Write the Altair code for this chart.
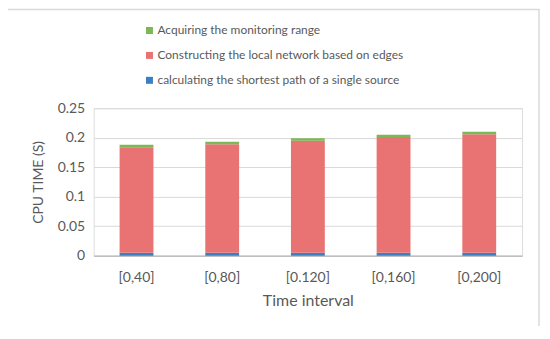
import altair as alt
import pandas as pd

intervals = ["[0,40]", "[0,80]", "[0.120]", "[0,160]", "[0,200]"]
series = [
    "Acquiring the monitoring range",
    "Constructing the local network based on edges",
    "calculating the shortest path of a single source",
]
shortest_path = [0.005, 0.005, 0.005, 0.005, 0.005]
local_network = [0.179, 0.184, 0.190, 0.196, 0.201]
monitoring = [0.004, 0.004, 0.004, 0.004, 0.004]
colors = ["#7CB955", "#E97373", "#3A7FC1"]

rows = []
for i, iv in enumerate(intervals):
    rows.append({"interval": iv, "series": series[2], "value": shortest_path[i], "ord": 0})
    rows.append({"interval": iv, "series": series[1], "value": local_network[i], "ord": 1})
    rows.append({"interval": iv, "series": series[0], "value": monitoring[i], "ord": 2})
df = pd.DataFrame(rows)

FONT = "Lato"
TXT = "#595959"

bars = alt.Chart(df).mark_bar().encode(
    x=alt.X("interval:N", sort=intervals,
            scale=alt.Scale(paddingInner=0.605, paddingOuter=0.3025),
            axis=alt.Axis(title="Time interval", labelAngle=0, ticks=False,
                          domainColor="#BFBFBF", domainWidth=1.5,
                          labelPadding=15, titlePadding=8,
                          labelFontSize=14, titleFontSize=16,
                          labelColor=TXT, titleColor=TXT,
                          labelFont=FONT, titleFont=FONT, titleFontWeight="normal")),
    y=alt.Y("value:Q", stack="zero",
            scale=alt.Scale(domain=[0, 0.25]),
            axis=alt.Axis(title="CPU TIME (S)", values=[0, 0.05, 0.1, 0.15, 0.2, 0.25],
                          format="~g", domain=False, ticks=False,
                          gridColor="#D9D9D9", labelPadding=9, titlePadding=12,
                          labelFontSize=14, titleFontSize=14,
                          labelColor=TXT, titleColor=TXT,
                          labelFont=FONT, titleFont=FONT, titleFontWeight="normal")),
    color=alt.Color("series:N", sort=series,
                    scale=alt.Scale(domain=series, range=colors),
                    legend=alt.Legend(title=None, orient="none", legendX=50, legendY=-84,
                                      symbolType="square", symbolSize=49,
                                      symbolStrokeWidth=0, rowPadding=13,
                                      labelOffset=2,
                                      labelFontSize=12, labelFont=FONT,
                                      labelColor=TXT, labelLimit=400)),
    order=alt.Order("ord:Q"),
)

frame = alt.Chart(pd.DataFrame({"a": [0]})).mark_rect(
    fill=None, stroke="#D9D9D9", strokeWidth=1.5
).encode(
    x=alt.value(-87), x2=alt.value(447), y=alt.value(-99), y2=alt.value(222)
)

chart = alt.layer(frame, bars).properties(
    width=430, height=148,
    autosize=alt.AutoSizeParams(type="none"),
    padding={"left": 86, "top": 100, "right": 20, "bottom": 70},
).configure_view(stroke=None).configure(background="white")

chart.save("out.html", embed_options={"renderer": "svg", "actions": False})
